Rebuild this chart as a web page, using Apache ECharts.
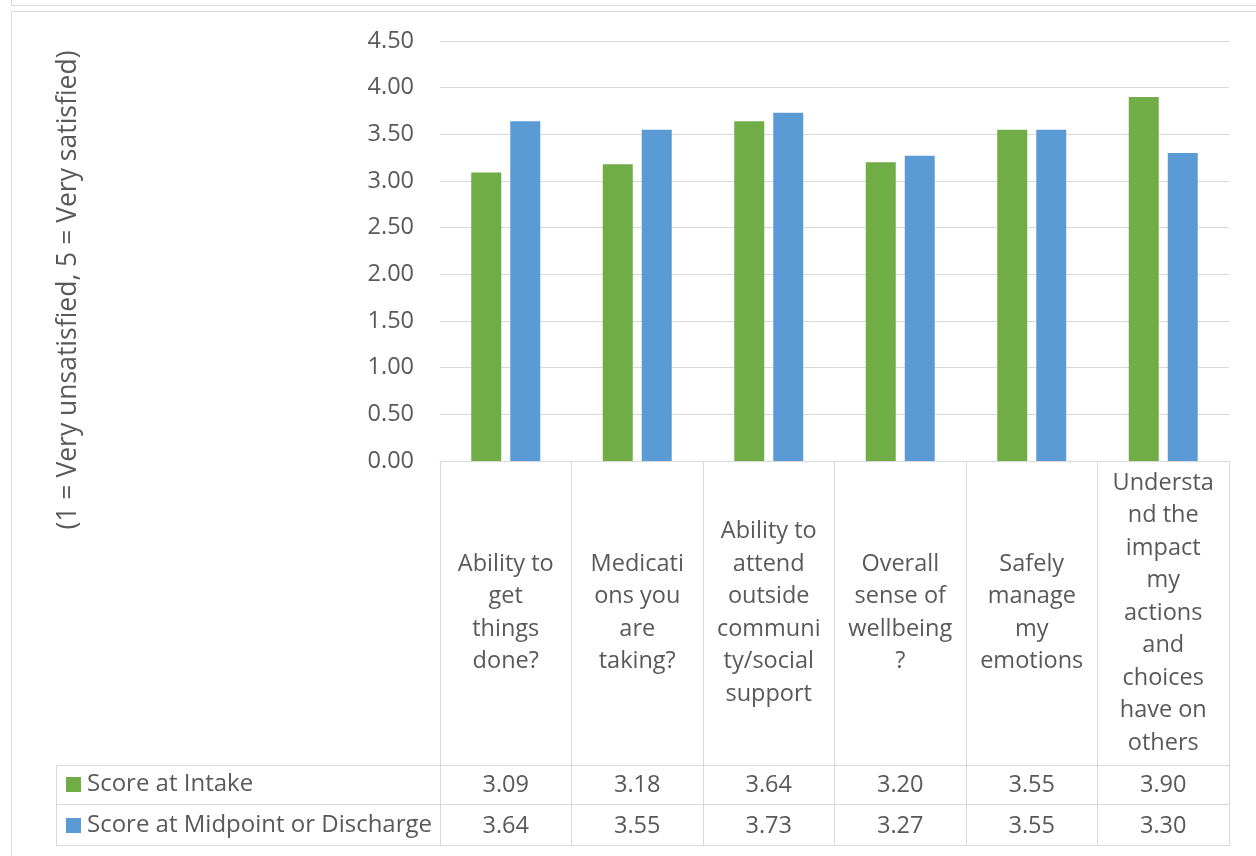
<!DOCTYPE html>
<html><head><meta charset="utf-8">
<script src="https://cdn.jsdelivr.net/npm/echarts@6/dist/echarts.min.js"></script>
<style>html,body{margin:0;padding:0;background:#fff}#c{width:1256px;height:856px}</style>
</head><body><div id="c"></div>
<script>
const categories = [
  "Ability to\nget\nthings\ndone?",
  "Medicati\nons you\nare\ntaking?",
  "Ability to\nattend\noutside\ncommuni\nty/social\nsupport",
  "Overall\nsense of\nwellbeing\n?",
  "Safely\nmanage\nmy\nemotions",
  "Understa\nnd the\nimpact\nmy\nactions\nand\nchoices\nhave on\nothers"
];
const seriesNames = ["Score at Intake", "Score at Midpoint or Discharge"];
const intake = [3.09, 3.18, 3.64, 3.20, 3.55, 3.90];
const discharge = [3.64, 3.55, 3.73, 3.27, 3.55, 3.30];
const yTicks = { min: 0, max: 4.5, interval: 0.5 };
const yAxisTitle = "(1 = Very unsatisfied, 5 = Very satisfied)";

const FONT = "'Open Sans', sans-serif";
const TXT = '#595959';
const LINE = '#d9d9d9';
const FS = 23.5;

const chart = echarts.init(document.getElementById('c'), null, { renderer: 'canvas' });

function valueAxis(vals, margin) {
  return {
    type: 'category', gridIndex: 0, position: 'bottom',
    data: vals.map(v => v.toFixed(2)),
    axisLine: { show: false }, axisTick: { show: false }, splitLine: { show: false },
    axisLabel: { interval: 0, margin: margin, verticalAlign: 'middle', fontFamily: FONT, fontSize: FS, color: TXT }
  };
}

const hl = (x1, y1, x2, y2) => ({ type: 'line', silent: true, shape: { x1, y1, x2, y2 }, style: { stroke: LINE, lineWidth: 1 } });

chart.setOption({
  animation: false,
  textStyle: { fontFamily: FONT },
  grid: { left: 440, right: 27, top: 41, bottom: 395, containLabel: false },
  legend: {
    orient: 'vertical', left: 66, top: 772.5, padding: 0,
    itemWidth: 15, itemHeight: 15, itemGap: 17, icon: 'rect',
    data: seriesNames,
    textStyle: { fontFamily: FONT, fontSize: 24, color: TXT, lineHeight: 24, padding: [0, 0, 0, 1] }
  },
  xAxis: [
    {
      type: 'category', data: categories, gridIndex: 0, position: 'bottom',
      axisLine: { show: true, lineStyle: { color: LINE, width: 1 } },
      axisTick: { show: true, length: 384, lineStyle: { color: LINE, width: 1 } },
      axisLabel: { interval: 0, margin: 152, verticalAlign: 'middle', align: 'center', lineHeight: 32.5, fontFamily: FONT, fontSize: FS, color: TXT },
      splitLine: { show: false }
    },
    valueAxis(intake, 324),
    valueAxis(discharge, 365)
  ],
  yAxis: {
    type: 'value', min: yTicks.min, max: yTicks.max, interval: yTicks.interval,
    name: yAxisTitle, nameLocation: 'middle', nameGap: 358, nameRotate: 90,
    nameTextStyle: { fontFamily: FONT, fontSize: 26.5, color: TXT, padding: [0, 78, 0, 0] },
    axisLine: { show: false }, axisTick: { show: false },
    axisLabel: { formatter: v => v.toFixed(2), margin: 26, fontFamily: FONT, fontSize: FS, color: TXT },
    splitLine: { lineStyle: { color: LINE, width: 1 } }
  },
  series: [
    { name: seriesNames[0], type: 'bar', data: intake, barWidth: 30, barGap: '30%', itemStyle: { color: '#70ad47' } },
    { name: seriesNames[1], type: 'bar', data: discharge, barWidth: 30, barGap: '30%', itemStyle: { color: '#5b9bd5' } }
  ],
  graphic: [
    hl(11, 5.5, 1256, 5.5), hl(11.5, 0, 11.5, 5),
    hl(11, 11.5, 1256, 11.5), hl(11.5, 11, 11.5, 856),
    hl(56, 765.5, 1230, 765.5), hl(56, 804.5, 1230, 804.5), hl(56, 845.5, 1230, 845.5),
    hl(56.5, 765, 56.5, 846)
  ]
});
</script></body></html>
